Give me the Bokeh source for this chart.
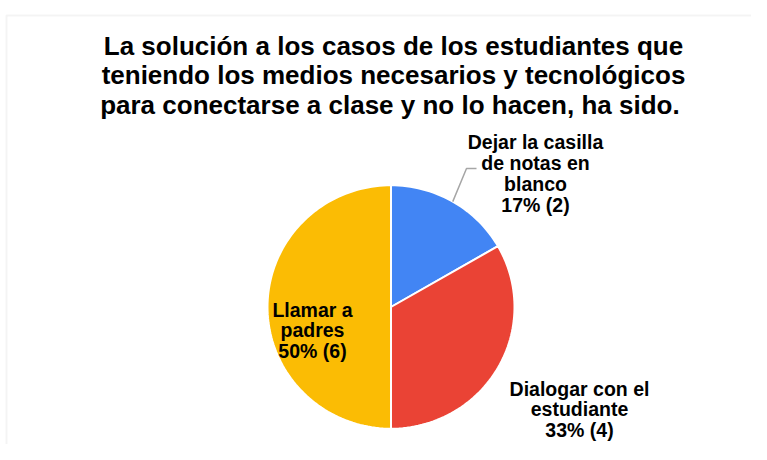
import math
from bokeh.plotting import figure
from bokeh.models import Range1d, BoxAnnotation, ColumnDataSource
from bokeh.core.properties import value
from bokeh.embed import file_html
from bokeh.resources import INLINE

# ---- data ----
title_lines = [
    "La solución a los casos de los estudiantes que",
    "teniendo los medios necesarios y tecnológicos",
    "para conectarse a clase  y no lo hacen, ha sido.",
]
categories = ["Dejar la casilla\nde notas en\nblanco", "Dialogar con el\nestudiante", "Llamar a\npadres"]
counts = [2, 4, 6]
colors = ["#4285F4", "#EA4335", "#FBBC04"]

# ---- layout (screen pixel coordinates) ----
W, H = 751, 444
p = figure(width=W, height=H, x_range=Range1d(0, W), y_range=Range1d(H, 0),
           output_backend="svg", toolbar_location=None, min_border=0,
           background_fill_color="white", border_fill_color="white")
p.axis.visible = False
p.grid.visible = False
p.outline_line_color = None

# outer chart border (only top/left visible in the frame)
p.add_layout(BoxAnnotation(left=6, top=15, right=900, bottom=900, fill_alpha=0,
                           line_color="#d9d9d9", line_width=2))

# title
p.text(x=[393], y=[75], text=["\n".join(title_lines)], text_font=value("Liberation Sans"),
       text_font_style="bold", text_font_size="26px", text_align="center",
       text_baseline="middle", text_line_height=0.97, text_color="#000000")

# pie as elliptical patches
cx, cy, rx, ry = 390.5, 306.5, 123.5, 121.7
total = sum(counts)
xs, ys, mids = [], [], []
start = 0.0
for c in counts:
    frac = c / total
    a0, a1 = start, start + frac * 2 * math.pi
    n = max(4, int(200 * frac))
    px, py = [cx], [cy]
    for i in range(n + 1):
        t = a0 + (a1 - a0) * i / n
        px.append(cx + rx * math.sin(t))
        py.append(cy - ry * math.cos(t))
    xs.append(px)
    ys.append(py)
    mids.append((a0 + a1) / 2)
    start = a1
p.patches(xs="xs", ys="ys", fill_color="color", line_color="white", line_width=2,
          source=ColumnDataSource(dict(xs=xs, ys=ys, color=colors)))

# labels
labels = [f"{cat}\n{round(100 * c / total)}% ({c})" for cat, c in zip(categories, counts)]
lab_x = [535, 579, 312]
lab_y = [173, 409, 330]
p.text(x=lab_x, y=lab_y, text=labels, text_font=value("Liberation Sans"),
       text_font_style="bold", text_font_size="19.5px", text_align="center",
       text_baseline="middle", text_line_height=0.95, text_color="#000000")

# leader line for first slice
m = mids[0]
sx, sy = cx + rx * math.sin(m), cy - ry * math.cos(m)
p.line(x=[sx, 466, 476], y=[sy, 168, 168], line_color="#a6a6a6", line_width=1.5)

open("out.html", "w").write(file_html(p, INLINE))
